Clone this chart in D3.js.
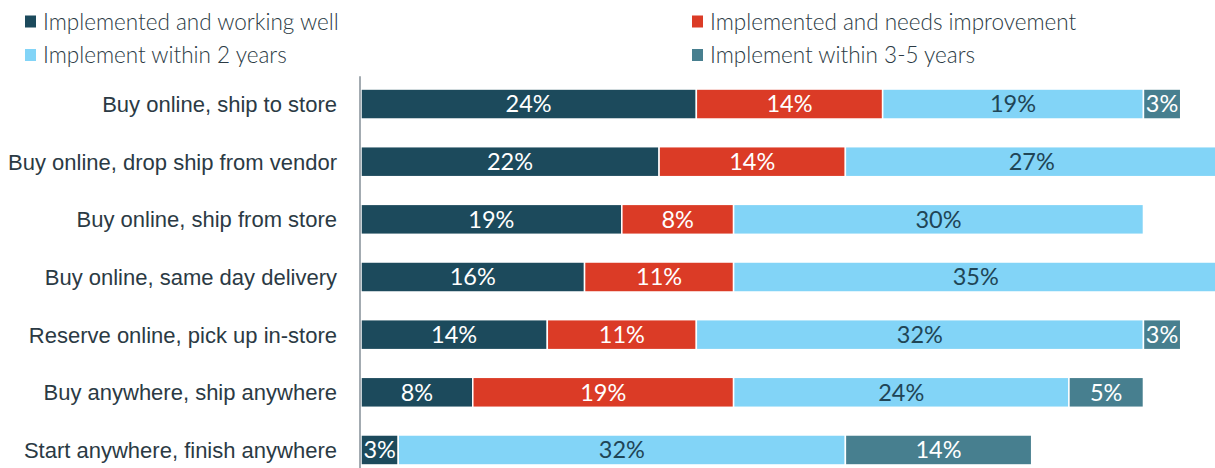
<!DOCTYPE html>
<html>
<head>
<meta charset="utf-8">
<script src="https://cdn.jsdelivr.net/npm/d3@7"></script>
<style>
  body { margin: 0; background: #ffffff; }
  svg { display: block; font-family: Lato, "Open Sans", sans-serif; }
  .cat-label { fill: #2b3a44; font-size: 22px; font-weight: 300; }
  .legend-label { fill: #2b3a44; font-size: 22.5px; font-weight: 300; }
  .value-label { font-size: 23.5px; font-weight: 400; }
</style>
</head>
<body>
<div id="wrapper"></div>
<script>

const categories = [
  "Buy online, ship to store",
  "Buy online, drop ship from vendor",
  "Buy online, ship from store",
  "Buy online, same day delivery",
  "Reserve online, pick up in-store",
  "Buy anywhere, ship anywhere",
  "Start anywhere, finish anywhere"
]

const seriesNames = [
  "Implemented and working well",
  "Implemented and needs improvement",
  "Implement within 2 years",
  "Implement within 3-5 years"
]

// percent of respondents
const workingWell       = [24.3, 21.6, 18.9, 16.2, 13.5, 8.1, 2.7]
const needsImprovement  = [13.5, 13.5, 8.1, 10.8, 10.8, 18.9, 0]
const within2Years      = [18.9, 27.0, 29.7, 35.1, 32.4, 24.3, 32.4]
const within3to5Years   = [2.7, 0, 0, 0, 2.7, 5.4, 13.5]

function drawChart(){

  // 1. Access Data
  const seriesValues = [workingWell, needsImprovement, within2Years, within3to5Years]
  const rows = categories.map((c, i) => {
    const row = {category: c}
    seriesNames.forEach((s, j) => row[s] = seriesValues[j][i])
    return row
  })
  const stacked = d3.stack().keys(seriesNames)(rows)

  // 2. Create Chart Dimensions
  let dimensions = {
    width: 1215,
    height: 468,
    barLeft: 361,
    pxPerPercent: 13.8,
    top: 75.2,
    bottom: 478.8,
  }

  // 3. Draw Canvas
  const wrapper = d3.select("#wrapper")
    .append("svg")
      .attr("width", dimensions.width)
      .attr("height", dimensions.height)

  // 4. Create Scales
  const xScale = d3.scaleLinear()
    .domain([0, 100])
    .range([dimensions.barLeft, dimensions.barLeft + 100 * dimensions.pxPerPercent])

  const yScale = d3.scaleBand()
    .domain(categories)
    .range([dimensions.top, dimensions.bottom])
    .paddingInner(0.48)
    .paddingOuter(0.24)

  const colorScale = d3.scaleOrdinal()
    .domain(seriesNames)
    .range(["#1c4a5c", "#db3b26", "#82d4f7", "#477f8f"])

  const labelColorScale = d3.scaleOrdinal()
    .domain(seriesNames)
    .range(["#ffffff", "#ffffff", "#1f4556", "#ffffff"])

  // 5. Draw Data
  const segments = wrapper.append("g")
    .selectAll("g")
    .data(stacked)
    .join("g")
      .attr("fill", d => colorScale(d.key))

  segments.selectAll("rect")
    .data(d => d.filter(p => p[1] - p[0] > 0))
    .join("rect")
      .attr("x", d => xScale(d[0]))
      .attr("y", d => yScale(d.data.category))
      .attr("width", d => xScale(d[1]) - xScale(d[0]))
      .attr("height", yScale.bandwidth())
      .attr("stroke", "#ffffff")
      .attr("stroke-width", 1.5)

  const labels = wrapper.append("g")
  stacked.forEach(series => {
    labels.selectAll(null)
      .data(series.filter(p => p[1] - p[0] > 0))
      .join("text")
        .attr("class", "value-label")
        .attr("x", d => (xScale(d[0]) + xScale(d[1])) / 2)
        .attr("y", d => yScale(d.data.category) + yScale.bandwidth() / 2)
        .attr("dy", "0.36em")
        .attr("text-anchor", "middle")
        .attr("fill", labelColorScale(series.key))
        .text(d => Math.round(d.data[series.key]) + "%")
  })

  // 6. Draw Peripherals
  const yAxis = d3.axisLeft(yScale).tickSize(0).tickPadding(23)
  const yAxisGroup = wrapper.append("g")
    .attr("transform", `translate(${dimensions.barLeft - 1}, 0)`)
    .call(yAxis)
  yAxisGroup.select(".domain")
    .attr("d", `M0,${dimensions.top + 1}V${dimensions.height}`)
    .attr("stroke", "#a3abb1")
    .attr("stroke-width", 2)
  yAxisGroup.selectAll(".tick text")
    .attr("class", "cat-label")
    .attr("font-family", null)
    .attr("font-size", null)
    .attr("fill", null)
    .attr("dy", "0.37em")

  const legendPositions = [
    {x: 25, y: 21.5}, {x: 692, y: 21.5},
    {x: 25, y: 55}, {x: 692, y: 55}
  ]
  const legend = wrapper.append("g")
    .selectAll("g")
    .data(seriesNames)
    .join("g")
      .attr("transform", (d, i) => `translate(${legendPositions[i].x}, ${legendPositions[i].y})`)

  legend.append("rect")
    .attr("x", 0)
    .attr("y", -6)
    .attr("width", 11)
    .attr("height", 12)
    .attr("fill", d => colorScale(d))

  legend.append("text")
    .attr("class", "legend-label")
    .attr("x", 18)
    .attr("dy", "0.37em")
    .text(d => d)
}

drawChart()
</script>
</body>
</html>
